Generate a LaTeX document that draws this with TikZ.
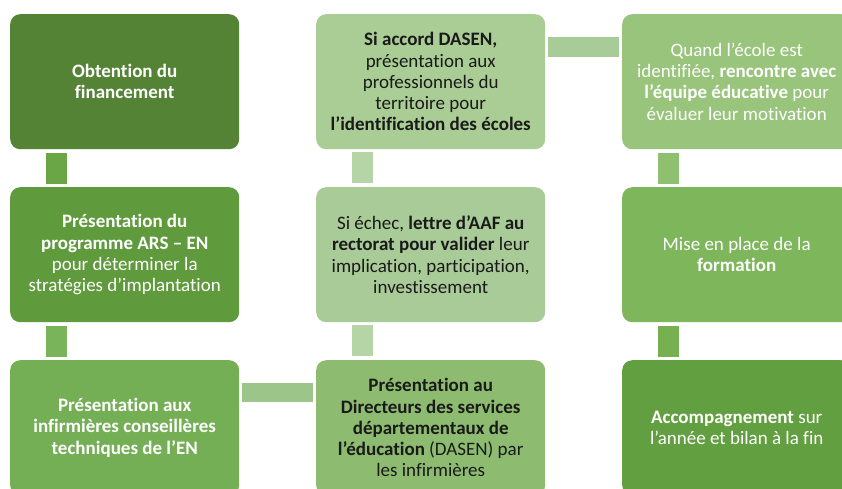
\documentclass[tikz,border=0pt]{standalone}
\usepackage{fontspec}
\setmainfont{Carlito}[Ligatures=NoCommon]
\definecolor{cA}{HTML}{558336}
\definecolor{cB}{HTML}{5F9A3C}
\definecolor{cC}{HTML}{74AE55}
\definecolor{cD}{HTML}{8DBC71}
\definecolor{cE}{HTML}{A9CB97}
\definecolor{cF}{HTML}{A9CD94}
\definecolor{cG}{HTML}{98C47B}
\definecolor{cH}{HTML}{7EB65B}
\definecolor{cI}{HTML}{629F40}
\definecolor{kA}{HTML}{6AA646}
\definecolor{kB}{HTML}{7AB45A}
\definecolor{kC}{HTML}{9BC589}
\definecolor{kD}{HTML}{B6D5A6}
\definecolor{kE}{HTML}{A8CC98}
\definecolor{kF}{HTML}{8EC06F}
\definecolor{kG}{HTML}{76B050}
\definecolor{txtdark}{HTML}{1A1A1A}
\tikzset{
  box/.style={rectangle, rounded corners=10pt, minimum width=229pt, minimum height=135pt,
    inner sep=0pt, align=center, anchor=north west,
    font=\fontsize{19}{21.3}\selectfont},
  wtxt/.style={text=white},
  dtxt/.style={text=txtdark},
  vconn/.style={line width=21pt, shorten <=4pt, shorten >=3pt},
  hconn/.style={line width=19.5pt, shorten <=3pt, shorten >=3pt},
}
\begin{document}
\begin{tikzpicture}[x=1pt,y=-1pt]
\useasboundingbox (0,0) rectangle (842,488);
\clip (0,0) rectangle (842,488);
% column 1
\node[box, wtxt, fill=cA] (b1) at (10,14) {\textbf{Obtention du}\\\textbf{financement}};
\node[box, wtxt, fill=cB] (b2) at (10,187) {\textbf{Présentation du}\\\textbf{programme ARS – EN}\\pour déterminer la\\stratégies d’implantation};
\node[box, wtxt, fill=cC] (b3) at (10,360) {\textbf{Présentation aux}\\\textbf{infirmières conseillères}\\\textbf{techniques de l’EN}};
% column 2
\node[box, dtxt, fill=cD] (b4) at (316,360) {\textbf{Présentation au}\\\textbf{Directeurs des services}\\\textbf{départementaux de}\\\textbf{l’éducation} (DASEN) par\\les infirmières};
\node[box, dtxt, fill=cE] (b5) at (316,187) {Si échec, \textbf{lettre d’AAF au}\\\textbf{rectorat pour valider} leur\\implication, participation,\\investissement};
\node[box, dtxt, fill=cF] (b6) at (316,14) {\textbf{Si accord DASEN,}\\présentation aux\\professionnels du\\territoire pour\\\textbf{l’identification des écoles}};
% column 3
\node[box, wtxt, fill=cG] (b7) at (622,14) {Quand l’école est\\identifiée, \textbf{rencontre avec}\\\textbf{l’équipe éducative} pour\\évaluer leur motivation};
\node[box, wtxt, fill=cH] (b8) at (622,187) {Mise en place de la\\\textbf{formation}};
\node[box, wtxt, fill=cI] (b9) at (622,360) {\textbf{Accompagnement} sur\\l’année et bilan à la fin};
% connectors
\draw[vconn, kA] ([xshift=46.5pt]b1.south west) -- ([xshift=46.5pt]b2.north west);
\draw[vconn, kB] ([xshift=46.5pt]b2.south west) -- ([xshift=46.5pt]b3.north west);
\draw[hconn, kC] ([yshift=-32.5pt]b3.north east) -- ([yshift=-32.5pt]b4.north west);
\draw[vconn, kD] ([xshift=46pt]b4.north west) -- ([xshift=46pt]b5.south west);
\draw[vconn, kD] ([xshift=46pt]b5.north west) -- ([xshift=46pt]b6.south west);
\draw[hconn, kE] ([yshift=-33pt]b6.north east) -- ([yshift=-33pt]b7.north west);
\draw[vconn, kF] ([xshift=46pt]b7.south west) -- ([xshift=46pt]b8.north west);
\draw[vconn, kG] ([xshift=46pt]b8.south west) -- ([xshift=46pt]b9.north west);
\end{tikzpicture}
\end{document}
